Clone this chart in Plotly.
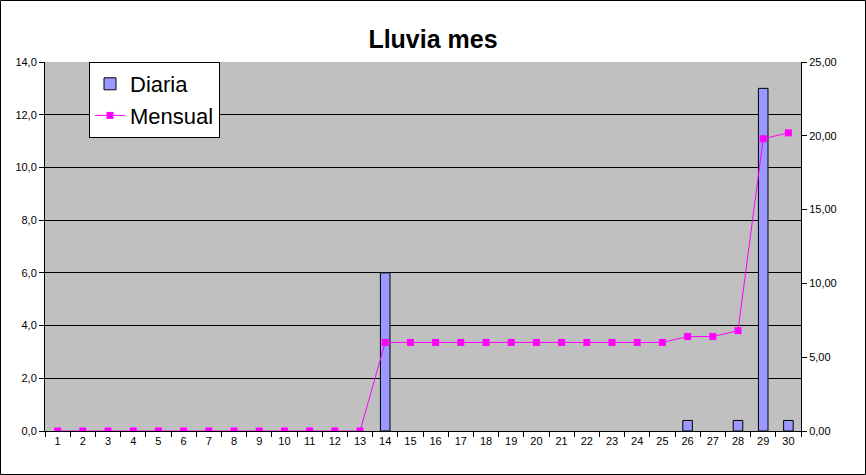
import plotly.graph_objects as go

days = [str(d) for d in range(1, 31)]
diaria = [0, 0, 0, 0, 0, 0, 0, 0, 0, 0, 0, 0, 0, 6.0, 0, 0, 0, 0, 0, 0, 0, 0, 0, 0, 0, 0.4, 0, 0.4, 13.0, 0.4]
mensual = [0, 0, 0, 0, 0, 0, 0, 0, 0, 0, 0, 0, 0, 6.0, 6.0, 6.0, 6.0, 6.0, 6.0, 6.0, 6.0, 6.0, 6.0, 6.0, 6.0, 6.4, 6.4, 6.8, 19.8, 20.2]
left_ticks = [0, 2, 4, 6, 8, 10, 12, 14]
right_ticks = [0, 5, 10, 15, 20, 25]

W, H = 866, 475
L, R, T, B = 45, 65, 62, 44
pw, ph = W - L - R, H - T - B

fig = go.Figure()
fig.add_trace(go.Bar(x=days, y=[v if v else None for v in diaria], name="Diaria",
                     marker=dict(color="#9999FF", line=dict(color="black", width=1)),
                     yaxis="y"))
fig.add_trace(go.Scatter(x=days, y=mensual, name="Mensual", mode="lines+markers",
                         line=dict(color="#FF00FF", width=1),
                         marker=dict(symbol="square", size=7, color="#FF00FF"),
                         yaxis="y2"))

fig.update_layout(
    width=W, height=H,
    margin=dict(l=L, r=R, t=T, b=B, pad=0, autoexpand=False),
    paper_bgcolor="white", plot_bgcolor="#C0C0C0",
    separators=",.",
    font=dict(family="Liberation Sans, Arial", size=11, color="black"),
    title=dict(text="<b>Lluvia mes</b>", x=0.5, xanchor="center", y=1 - 39 / H, yanchor="middle",
               font=dict(size=25, color="black", family="Liberation Sans, Arial")),
    bargap=0.62,
    showlegend=True,
    legend=dict(x=(89 - L) / pw, y=1, xanchor="left", yanchor="top",
                bgcolor="white", bordercolor="black", borderwidth=1,
                font=dict(size=22), tracegroupgap=0, itemwidth=30,
                entrywidth=0),
    xaxis=dict(type="category", tickson="boundaries", ticks="outside", ticklen=5,
               tickcolor="black", showline=True, linecolor="black", linewidth=1,
               showgrid=False, tickfont=dict(size=11), range=[-0.5, 29.5], automargin=False),
    yaxis=dict(range=[0, 14], tickvals=left_ticks, tickformat=".1f", ticks="outside", ticklen=5,
               tickcolor="black", showline=True, linecolor="black", linewidth=1,
               showgrid=True, gridcolor="black", gridwidth=1, zeroline=False,
               tickfont=dict(size=11), automargin=False),
    yaxis2=dict(range=[0, 25], tickvals=right_ticks, tickformat=".2f", overlaying="y", side="right",
                ticks="outside", ticklen=5, tickcolor="black", showline=True, linecolor="black",
                linewidth=1, showgrid=False, zeroline=False, tickfont=dict(size=11), automargin=False),
)

fig.add_shape(type="rect", xref="paper", yref="paper",
              x0=-(L - 0.5) / pw, x1=1 + (R - 0.5) / pw,
              y0=-(B - 0.5) / ph, y1=1 + (T - 0.5) / ph,
              line=dict(color="black", width=1), fillcolor="rgba(0,0,0,0)", layer="above")

fig.write_html("out.html", config={"displayModeBar": False},
               post_script="document.body.style.margin='0';document.body.style.overflow='hidden';")
